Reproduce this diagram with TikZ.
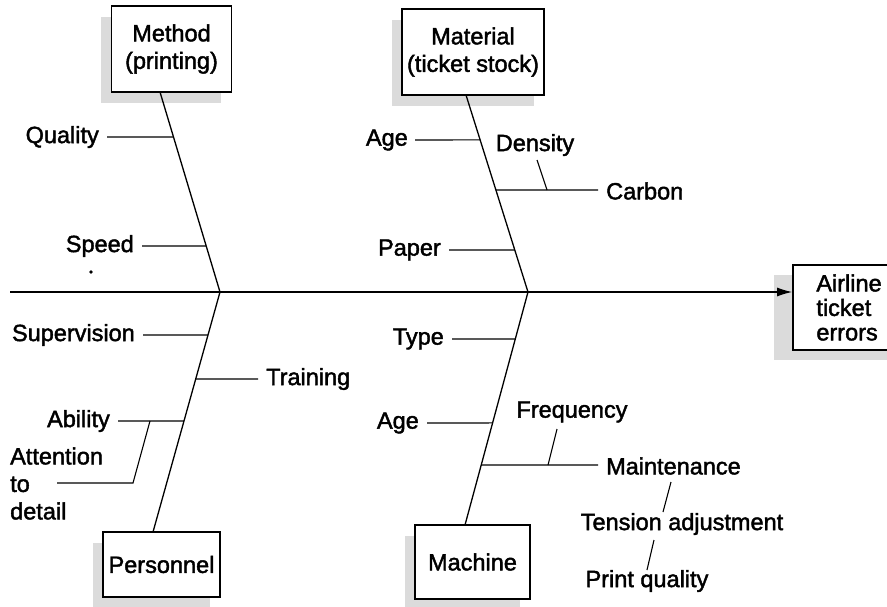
\documentclass[tikz,border=0pt]{standalone}
\usepackage{fontspec}
\setmainfont{Liberation Sans}[FakeBold=1.8]
\usetikzlibrary{arrows.meta,calc}
\begin{document}
\begin{tikzpicture}[x=1pt,y=-1pt,
  every node/.style={font=\fontsize{23.5}{27.5}\selectfont, inner sep=0pt},
  cause/.style={draw, line width=1.6pt, fill=white, align=center},
  shade/.style={fill=gray!28, draw=none},
  bone/.style={line width=1.3pt},
  twig/.style={line width=1.1pt}]
\useasboundingbox (0,0) rectangle (887,607);

% drop shadows behind the cause boxes
\fill[shade] (101,17) rectangle (221,103);
\fill[shade] (392,20) rectangle (534,106);
\fill[shade] (774,275) rectangle (887,360);
\fill[shade] (93,543) rectangle (210,607);
\fill[shade] (405,536) rectangle (520,607);

% cause boxes
\node[cause, minimum width=120pt, minimum height=86pt] (meth) at (171.5,49) {Method\\(printing)};
\node[cause, minimum width=142pt, minimum height=86pt] (matl) at (473,52) {Material\\(ticket stock)};
\node[cause, minimum width=117pt, minimum height=65pt] (pers) at (161.5,564.5) {Personnel};
\node[cause, minimum width=115pt, minimum height=74pt] (mach) at (472.5,562) {Machine};
\node[cause, minimum width=110pt, minimum height=85pt] (eff) at (848,307.5) {};
\node[anchor=west, align=left, font=\fontsize{23.5}{24.5}\selectfont]
  (efft) at ([xshift=24pt]eff.west) {Airline\\ticket\\errors};

% spine and main bones
\coordinate (tail) at (10,292);
\coordinate (j1) at (220,292);
\coordinate (j2) at (528,292);
\coordinate (mtop) at (160,92);
\coordinate (ttop) at (466,95);
\coordinate (pbot) at (153,532);
\coordinate (cbot) at (465,525);
\draw[bone, -{Latex[length=15pt,width=9pt]}] (tail) -- (tail -| eff.west);
\draw[bone] (mtop) -- (j1) -- (pbot);
\draw[bone] (ttop) -- (j2) -- (cbot);

% Method branches
\node[anchor=east] (qual) at (99,137) {Quality};
\node[anchor=east] (speed) at (134,246) {Speed};
\coordinate (qualp) at ($(mtop)!0.225!(j1)$);
\coordinate (speedp) at ($(mtop)!0.77!(j1)$);
\draw[twig] ([xshift=8pt]qual.east) -- (qualp);
\draw[twig] ([xshift=8pt]speed.east) -- (speedp);
\fill (91,272) circle (1.8pt);

% Material branches
\node[anchor=east] (age1) at (408,140) {Age};
\node (dens) at (535,145) {Density};
\node[anchor=west] (carb) at (606,191) {Carbon};
\node[anchor=east] (paper) at (441,250) {Paper};
\coordinate (age1p) at ($(ttop)!0.228!(j2)$);
\coordinate (carbp) at ($(ttop)!0.482!(j2)$);
\coordinate (paperp) at ($(ttop)!0.787!(j2)$);
\coordinate (denst) at (537,160);
\coordinate (densb) at (547,190);
\draw[twig] ([xshift=7pt]age1.east) -- (age1p);
\draw[twig] (carbp) -- (598,190);
\draw[twig] (denst) -- (densb);
\draw[twig] ([xshift=8pt]paper.east) -- (paperp);

% Personnel branches
\node[anchor=east] (sup) at (135,335) {Supervision};
\node[anchor=west] (train) at (266,379) {Training};
\node[anchor=east] (abil) at (110,421) {Ability};
\node[anchor=west, align=left] (att) at (10,483.5) {Attention\\to\\detail};
\coordinate (supp) at ($(j1)!0.179!(pbot)$);
\coordinate (trainp) at ($(j1)!0.3625!(pbot)$);
\coordinate (abilp) at ($(j1)!0.5375!(pbot)$);
\coordinate (abilk) at (150,421);
\coordinate (attk) at (133,483);
\draw[twig] ([xshift=8pt]sup.east) -- (supp);
\draw[twig] (trainp) -- ([xshift=-8pt]train.west);
\draw[twig] ([xshift=8pt]abil.east) -- (abilp);
\draw[twig] (abilk) -- (attk) -- (57,483);

% Machine branches
\node[anchor=east] (type) at (444,339) {Type};
\node[anchor=east] (age2) at (419,423) {Age};
\node (freq) at (572,412) {Frequency};
\node[anchor=west] (maint) at (606,466) {Maintenance};
\node (tens) at (682,524) {Tension adjustment};
\node (prt) at (647,581) {Print quality};
\coordinate (typep) at ($(j2)!0.2017!(cbot)$);
\coordinate (age2p) at ($(j2)!0.562!(cbot)$);
\coordinate (maintp) at ($(j2)!0.7425!(cbot)$);
\draw[twig] ([xshift=8pt]type.east) -- (typep);
\draw[twig] ([xshift=8pt]age2.east) -- (age2p);
\draw[twig] (maintp) -- (598,465);
\draw[twig] (557,429) -- (548,465);
\draw[twig] (671,482) -- (663,512);
\draw[twig] (654,540) -- (647,570);
\end{tikzpicture}
\end{document}
